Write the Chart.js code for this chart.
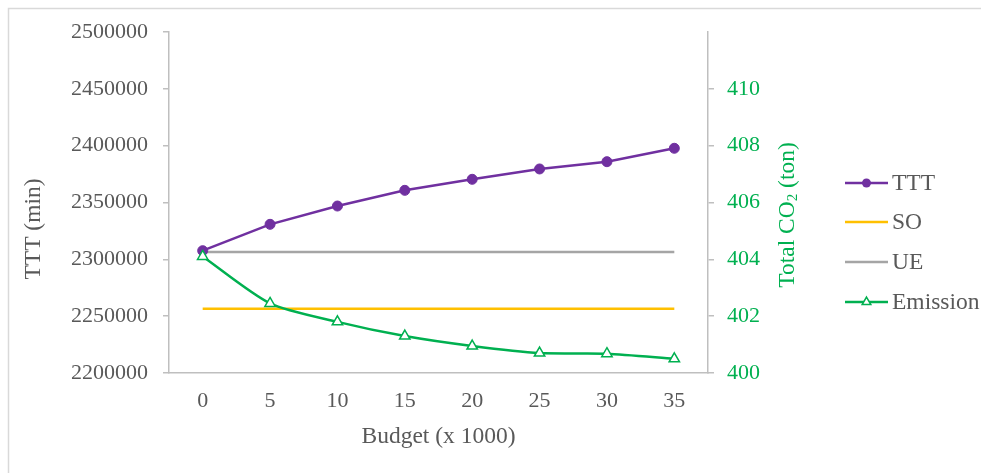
<!DOCTYPE html>
<html>
<head>
<meta charset="utf-8">
<title>TTT and emissions vs budget</title>
<script src="https://cdn.jsdelivr.net/npm/chart.js@4.4.1/dist/chart.umd.min.js"></script>
<style>
  html, body { margin: 0; padding: 0; background: #ffffff; }
  #wrap { position: relative; width: 981px; height: 473px; }
  canvas { display: block; }
</style>
</head>
<body>
<div id="wrap"><canvas id="chart" width="981" height="473"></canvas></div>
<script>
// ---- data ----
const BUDGET = [0, 5, 10, 15, 20, 25, 30, 35];
const TTT = [2307600, 2330800, 2346900, 2360700, 2370400, 2379500, 2385900, 2397700];
const SO = [2256600, 2256600, 2256600, 2256600, 2256600, 2256600, 2256600, 2256600];
const UE = [2306500, 2306500, 2306500, 2306500, 2306500, 2306500, 2306500, 2306500];
const EMISSION = [404.1, 402.45, 401.8, 401.3, 400.95, 400.7, 400.68, 400.5];

const TTT_AXIS = [2200000, 2500000, 50000];   // min, max, step
const CO2_AXIS = [400, 412, 2];               // min, max, step
const CO2_HIDDEN_TICK = 412;

const X_TITLE = 'Budget (x 1000)';
const Y_TITLE = 'TTT (min)';
const Y2_TITLE = ['Total CO', '2', ' (ton)'];

// ---- styling ----
const FONT = "'Liberation Serif', 'Times New Roman', serif";
const FS = 22;        // tick labels
const TFS = 23.5;     // titles and legend
const GREY_TEXT = '#595959';
const AXIS_GREY = '#BFBFBF';
const PURPLE = '#7030A0';
const GOLD = '#FFC000';
const GREY_LINE = '#A5A5A5';
const GREEN = '#00B050';

// plot box (canvas pixels)
const AREA = { left: 169, right: 708, top: 32, bottom: 373 };
const W = 981, H = 473;

const decorations = {
  id: 'decorations',
  beforeDraw(chart) {
    const ctx = chart.ctx;
    ctx.save();
    ctx.fillStyle = '#ffffff';
    ctx.fillRect(0, 0, W, H);
    ctx.strokeStyle = '#D9D9D9';
    ctx.lineWidth = 1.5;
    ctx.beginPath();
    ctx.moveTo(8.5, H);
    ctx.lineTo(8.5, 8.5);
    ctx.lineTo(W, 8.5);
    ctx.stroke();
    ctx.restore();
  },
  afterDraw(chart) {
    const ctx = chart.ctx;
    const ca = chart.chartArea;
    const normFont = TFS + 'px ' + FONT;
    const subFont = Math.round(TFS * 0.65) + 'px ' + FONT;
    ctx.save();
    ctx.font = normFont;
    ctx.textBaseline = 'middle';
    ctx.textAlign = 'center';

    // x title
    ctx.fillStyle = GREY_TEXT;
    ctx.fillText(X_TITLE, (ca.left + ca.right) / 2, 437);

    // left title
    ctx.save();
    ctx.translate(34, 229);
    ctx.rotate(-Math.PI / 2);
    ctx.fillText(Y_TITLE, 0, 0);
    ctx.restore();

    // right title with subscript
    ctx.save();
    ctx.translate(788, 215);
    ctx.rotate(-Math.PI / 2);
    ctx.fillStyle = GREEN;
    ctx.textAlign = 'left';
    ctx.font = normFont;
    const w1 = ctx.measureText(Y2_TITLE[0]).width;
    const w3 = ctx.measureText(Y2_TITLE[2]).width;
    ctx.font = subFont;
    const w2 = ctx.measureText(Y2_TITLE[1]).width;
    let x = -(w1 + w2 + w3) / 2;
    ctx.font = normFont;
    ctx.fillText(Y2_TITLE[0], x, 0);
    x += w1;
    ctx.font = subFont;
    ctx.fillText(Y2_TITLE[1], x, 5);
    x += w2;
    ctx.font = normFont;
    ctx.fillText(Y2_TITLE[2], x, 0);
    ctx.restore();

    // legend
    const ys = [183, 222, 262, 302];
    const lx0 = 845, lx1 = 888;
    chart.data.datasets.forEach((ds, i) => {
      const y = ys[i];
      ctx.strokeStyle = ds.borderColor;
      ctx.lineWidth = ds.borderWidth;
      ctx.beginPath();
      ctx.moveTo(lx0, y);
      ctx.lineTo(lx1, y);
      ctx.stroke();
      const cx = (lx0 + lx1) / 2;
      if (ds.pointRadius > 0 && ds.pointStyle === 'circle') {
        ctx.fillStyle = ds.pointBackgroundColor;
        ctx.beginPath();
        ctx.arc(cx, y, 4.5, 0, Math.PI * 2);
        ctx.fill();
      } else if (ds.pointRadius > 0 && ds.pointStyle === 'triangle') {
        const r = 5;
        ctx.fillStyle = '#ffffff';
        ctx.lineWidth = 1.5;
        ctx.beginPath();
        ctx.moveTo(cx, y - r);
        ctx.lineTo(cx + r * 0.866, y + r * 0.5);
        ctx.lineTo(cx - r * 0.866, y + r * 0.5);
        ctx.closePath();
        ctx.fill();
        ctx.stroke();
      }
      ctx.fillStyle = GREY_TEXT;
      ctx.font = normFont;
      ctx.textAlign = 'left';
      ctx.fillText(ds.label, lx1 + 4, y + 1);
    });
    ctx.restore();
  }
};

const tickFont = { family: FONT, size: FS };

new Chart(document.getElementById('chart'), {
  type: 'line',
  data: {
    labels: BUDGET,
    datasets: [
      {
        label: 'TTT', data: TTT, yAxisID: 'y',
        borderColor: PURPLE, backgroundColor: PURPLE, borderWidth: 2.5,
        pointStyle: 'circle', pointRadius: 5, pointBackgroundColor: PURPLE,
        pointBorderColor: PURPLE, pointBorderWidth: 1, tension: 0, order: 2
      },
      {
        label: 'SO', data: SO, yAxisID: 'y',
        borderColor: GOLD, backgroundColor: GOLD, borderWidth: 2.5,
        pointRadius: 0, tension: 0, order: 4
      },
      {
        label: 'UE', data: UE, yAxisID: 'y',
        borderColor: GREY_LINE, backgroundColor: GREY_LINE, borderWidth: 2.5,
        pointRadius: 0, tension: 0, order: 3
      },
      {
        label: 'Emission', data: EMISSION, yAxisID: 'y1',
        borderColor: GREEN, backgroundColor: GREEN, borderWidth: 2.5,
        pointStyle: 'triangle', pointRadius: 6, pointBackgroundColor: '#ffffff',
        pointBorderColor: GREEN, pointBorderWidth: 1.5, tension: 0.25, order: 1
      }
    ]
  },
  options: {
    responsive: false,
    animation: false,
    events: [],
    layout: { padding: { left: 0, right: W - AREA.right - 100, top: AREA.top, bottom: 0 } },
    plugins: { legend: { display: false }, tooltip: { enabled: false } },
    scales: {
      x: {
        type: 'category',
        offset: true,
        grid: { display: false, drawTicks: false },
        border: { display: true, color: AXIS_GREY, width: 1.5 },
        ticks: { color: GREY_TEXT, font: tickFont, padding: 15, maxRotation: 0 },
        afterFit(s) { s.height = H - AREA.bottom; }
      },
      y: {
        position: 'left',
        min: TTT_AXIS[0], max: TTT_AXIS[1],
        grid: { drawOnChartArea: false, drawTicks: true, tickLength: 6, color: AXIS_GREY, lineWidth: 1.5 },
        border: { display: true, color: AXIS_GREY, width: 1.5 },
        ticks: { stepSize: TTT_AXIS[2], color: GREY_TEXT, font: tickFont, padding: 15,
                 callback: v => String(v) },
        afterFit(s) { s.width = AREA.left; }
      },
      y1: {
        position: 'right',
        min: CO2_AXIS[0], max: CO2_AXIS[1],
        grid: { drawOnChartArea: false, drawTicks: true, tickLength: 6, color: AXIS_GREY, lineWidth: 1.5 },
        border: { display: true, color: AXIS_GREY, width: 1.5 },
        ticks: { stepSize: CO2_AXIS[2], color: GREEN, font: tickFont, padding: 13,
                 callback: v => String(v) },
        afterBuildTicks(s) { s.ticks = s.ticks.filter(t => t.value !== CO2_HIDDEN_TICK); },
        afterFit(s) { s.width = 100; }
      }
    }
  },
  plugins: [decorations]
});
</script>
</body>
</html>
